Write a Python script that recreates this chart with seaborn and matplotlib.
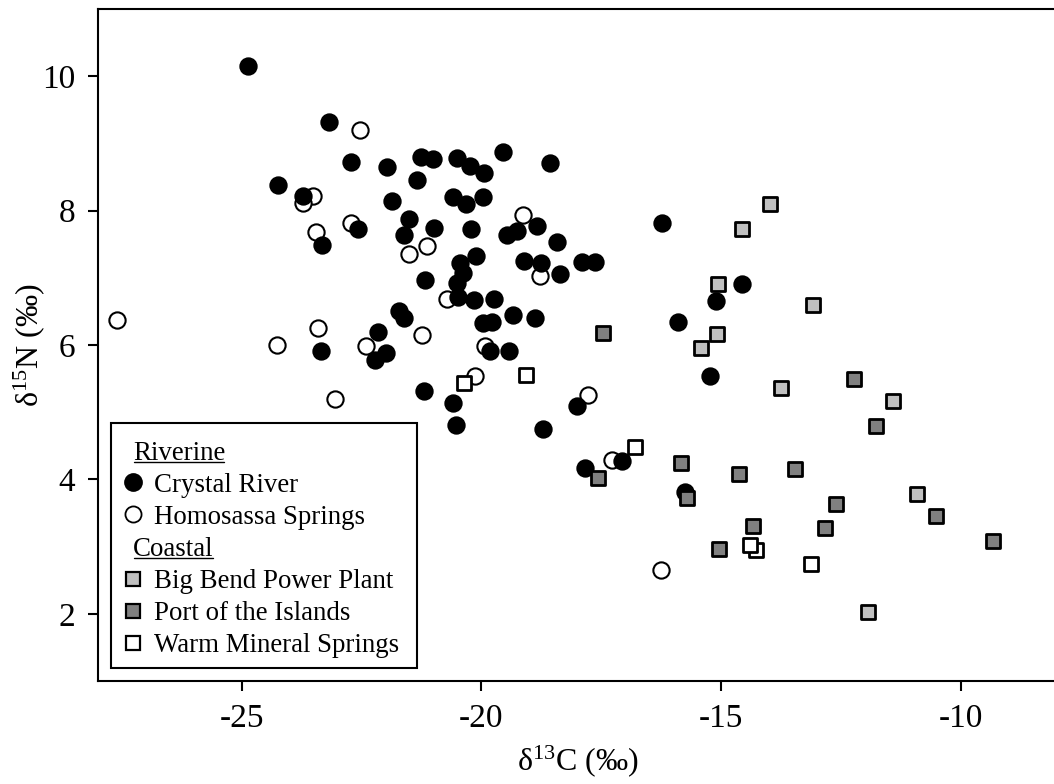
import matplotlib
matplotlib.use("Agg")
import matplotlib.pyplot as plt
import numpy as np
import pandas as pd
import seaborn as sns
from matplotlib.lines import Line2D

# δ13C / δ15N values (‰) per site
crystal_x = [-24.86, -23.17, -22.72, -21.96, -21.27, -21.02, -20.51, -20.24, -19.94, -19.56,
             -18.57, -24.25, -23.72, -21.87, -21.34, -20.60, -20.32, -19.97, -18.85, -18.42,
             -19.47, -19.26, -22.57, -23.32, -21.50, -21.61, -20.99, -20.22, -20.11, -20.45,
             -20.38, -20.52, -20.48, -20.15, -19.74, -19.11, -18.76, -18.36, -17.91, -17.63,
             -21.18, -21.71, -21.61, -22.16, -19.35, -19.97, -19.79, -18.88, -23.35, -21.98,
             -22.22, -19.82, -19.42, -21.19, -20.60, -20.53, -18.72, -18.01, -15.91, -15.23,
             -15.11, -14.57, -17.07, -17.85, -15.75, -16.23]
crystal_y = [10.15, 9.32, 8.73, 8.65, 8.79, 8.77, 8.78, 8.67, 8.56, 8.87,
             8.71, 8.38, 8.21, 8.15, 8.45, 8.20, 8.10, 8.20, 7.77, 7.53,
             7.63, 7.69, 7.73, 7.49, 7.87, 7.63, 7.74, 7.73, 7.32, 7.22,
             7.07, 6.93, 6.72, 6.67, 6.68, 7.25, 7.22, 7.06, 7.23, 7.23,
             6.97, 6.51, 6.40, 6.20, 6.45, 6.33, 6.35, 6.40, 5.91, 5.88,
             5.78, 5.91, 5.91, 5.32, 5.14, 4.81, 4.75, 5.09, 6.35, 5.54,
             6.65, 6.91, 4.27, 4.17, 3.81, 7.82]

homosassa_x = [-22.53, -23.51, -23.72, -19.13, -22.71, -23.44, -21.14, -21.50, -20.71, -18.78,
               -21.24, -23.40, -24.26, -22.41, -19.92, -20.13, -23.05, -17.77, -17.27, -16.25,
               -27.60]
homosassa_y = [9.20, 8.21, 8.11, 7.94, 7.82, 7.68, 7.48, 7.35, 6.68, 7.03,
               6.15, 6.25, 6.00, 5.98, 5.98, 5.54, 5.20, 5.26, 4.29, 2.65,
               6.37]

bigbend_x = [-13.99, -14.57, -15.06, -13.08, -15.09, -15.43, -13.76, -11.43, -10.91, -11.95]
bigbend_y = [8.10, 7.72, 6.91, 6.59, 6.17, 5.96, 5.36, 5.17, 3.79, 2.03]

port_x = [-17.47, -12.24, -11.77, -15.84, -14.64, -13.46, -17.56, -15.72, -14.33, -15.04,
          -12.61, -10.53, -12.83, -9.34]
port_y = [6.18, 5.49, 4.79, 4.24, 4.08, 4.15, 4.02, 3.73, 3.31, 2.97,
          3.63, 3.46, 3.28, 3.09]

warm_x = [-20.36, -19.08, -16.80, -14.27, -14.41, -13.13]
warm_y = [5.44, 5.56, 4.49, 2.95, 3.02, 2.75]

x_ticks = [-25, -20, -15, -10]
y_ticks = [2, 4, 6, 8, 10]

sns.set_theme(style="white")
plt.rcParams["font.family"] = ["Liberation Serif", "DejaVu Serif"]
plt.rcParams["mathtext.fontset"] = "custom"
plt.rcParams["mathtext.rm"] = "Liberation Serif"
plt.rcParams["mathtext.it"] = "Liberation Serif:italic"
plt.rcParams["mathtext.bf"] = "Liberation Serif:bold"
plt.rcParams["axes.unicode_minus"] = False

fig = plt.figure(figsize=(10.54, 7.84), dpi=100)
ax = fig.add_axes([0.0927, 0.1312, 0.9102, 0.8574])

# (label, x, y, marker, face, size, edge width)
groups = [
    ("Homosassa Springs", homosassa_x, homosassa_y, "o", "white", 137, 1.5),
    ("Crystal River", crystal_x, crystal_y, "o", "black", 137, 1.5),
    ("Big Bend Power Plant", bigbend_x, bigbend_y, "s", "#c0c0c0", 88, 2.0),
    ("Port of the Islands", port_x, port_y, "s", "#808080", 88, 2.0),
    ("Warm Mineral Springs", warm_x, warm_y, "s", "white", 88, 2.0),
]
for name, xs, ys, mk, fc, size, lw in groups:
    df = pd.DataFrame({"d13C": xs, "d15N": ys})
    sns.scatterplot(data=df, x="d13C", y="d15N", ax=ax, marker=mk, s=size,
                    color=fc, edgecolor="black", linewidth=lw, legend=False, zorder=3)

ax.set_xlim(-28, -8)
ax.set_ylim(1, 11)
ax.set_xticks(x_ticks)
ax.set_yticks(y_ticks)
ax.tick_params(axis="both", which="major", direction="out", length=7, width=1.5,
               labelsize=24, color="black", labelcolor="black", pad=9,
               bottom=True, left=True)
for side in ["left", "bottom", "top"]:
    ax.spines[side].set_color("black")
    ax.spines[side].set_linewidth(1.5)
ax.spines["right"].set_visible(False)

ax.set_xlabel("δ$^{13}$C (‰)", fontsize=23, color="black")
ax.set_ylabel("δ$^{15}$N (‰)", fontsize=23, color="black")
ax.xaxis.set_label_coords(0.5, -0.092)
ax.yaxis.set_label_coords(-0.053, 0.5)


def blank():
    return Line2D([], [], linestyle="none", marker=None)


def key(mk, fc, ms, mew):
    return Line2D([], [], linestyle="none", marker=mk, markersize=ms,
                  markerfacecolor=fc, markeredgecolor="black", markeredgewidth=mew)


headers = ["Riverine", "Coastal"]
handles = [blank(), key("o", "black", 12.3, 1.2), key("o", "white", 11.6, 1.3),
           blank(), key("s", "#c0c0c0", 9.6, 1.6), key("s", "#808080", 9.6, 1.6),
           key("s", "white", 9.6, 1.6)]
labels = ["Riverine", "Crystal River", "Homosassa Springs", "Coastal",
          "Big Bend Power Plant", "Port of the Islands", "Warm Mineral Springs"]

# a near-zero-size blank title adds a little headroom above the first row
leg = ax.legend(handles, labels, loc="upper left", bbox_to_anchor=(0.0139, 0.3844),
                borderaxespad=0, fontsize=19.4, frameon=True, fancybox=False,
                framealpha=1, edgecolor="black", handlelength=0.9,
                handletextpad=0.33, borderpad=0.36, labelspacing=0.264,
                title=" ", title_fontsize=0.5)
leg.get_frame().set_linewidth(1.5)
for t in leg.get_texts():
    t.set_color("black")

# headers sit flush with the key column; column widened to leave room on the right
column = leg._legend_handle_box.get_children()[0]
column.align = "left"
column.width = 287
for item in column.get_children():
    hbox, tbox = item.get_children()
    if tbox.get_text() in headers:
        hbox.width = 9
        item.sep = 0

fig.canvas.draw()
renderer = fig.canvas.get_renderer()
inv = fig.transFigure.inverted()
for t in leg.get_texts():
    if t.get_text() in headers:
        bb = t.get_window_extent(renderer)
        yline = bb.y0 + 4.0
        (fx0, fy), (fx1, _) = inv.transform([(bb.x0 + 1, yline), (bb.x1 - 1, yline)])
        fig.add_artist(Line2D([fx0, fx1], [fy, fy], transform=fig.transFigure,
                              color="black", linewidth=1.0, zorder=10))

fig.savefig("out.png", dpi=100)
